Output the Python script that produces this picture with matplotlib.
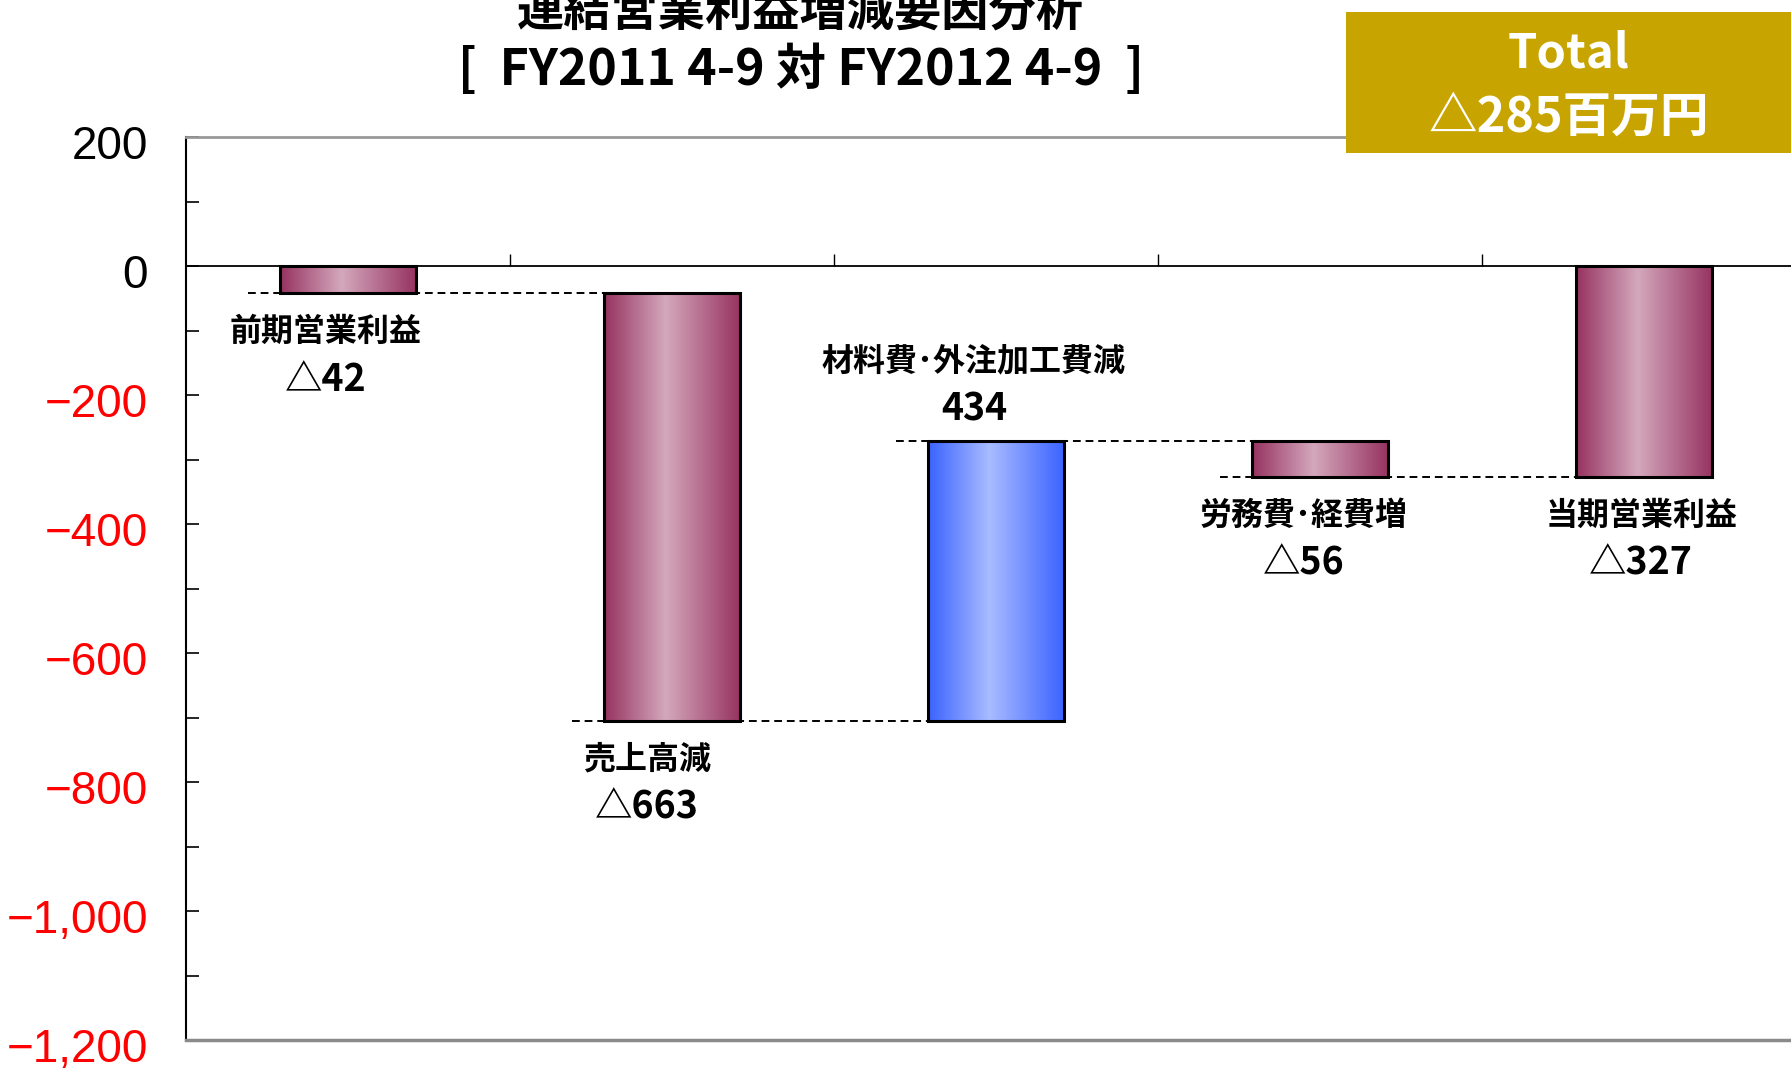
import numpy as np
import matplotlib
matplotlib.use('Agg')
import matplotlib.pyplot as plt
import matplotlib.transforms as mtransforms
from matplotlib.colors import LinearSegmentedColormap
from matplotlib.patches import Rectangle

plt.rcParams['font.family'] = ['Noto Sans CJK JP', 'DejaVu Sans']

# data (millions of yen)
labels = ['前期営業利益', '売上高減', '材料費･外注加工費減', '労務費･経費増', '当期営業利益']
values = [-42, -663, 434, -56, -327]
kinds = ['total', 'delta', 'delta', 'delta', 'total']
yticks = [200, 0, -200, -400, -600, -800, -1000, -1200]
title_lines = ['連結営業利益増減要因分析', '[  FY2011 4-9 対 FY2012 4-9  ]']
total_change = -285

# label nudges (points)
label_dx = [-16, -18, -16, -12, -2]

def tri(v):
    return '△' + str(abs(v)) if v < 0 else str(v)

# waterfall bottoms / tops
bottoms, tops, ends = [], [], []
level = 0
for v, k in zip(values, kinds):
    if k == 'total':
        lo, hi = min(0, v), max(0, v)
        level = v
    else:
        lo, hi = min(level, level + v), max(level, level + v)
        level = level + v
    bottoms.append(lo)
    tops.append(hi)
    ends.append(level)

pink = LinearSegmentedColormap.from_list('pink', [(0, '#963260'), (0.45, '#d4a8bc'), (1, '#963260')])
blue = LinearSegmentedColormap.from_list('blue', [(0, '#3a62ff'), (0.45, '#a9bcff'), (1, '#3a62ff')])

fig = plt.figure(figsize=(17.91, 10.69), dpi=100)
ax = fig.add_axes([0.1039, 0.0271, 0.9045, 0.8447])

x = np.arange(len(values))
w = 0.42
grad = np.linspace(0, 1, 256).reshape(1, -1)
for i in x:
    rect = ax.bar(i, tops[i] - bottoms[i], w, bottom=bottoms[i], facecolor='none',
                  edgecolor='black', linewidth=2.2, zorder=3)[0]
    cmap = blue if values[i] > 0 and kinds[i] == 'delta' else pink
    im = ax.imshow(grad, cmap=cmap, aspect='auto', zorder=2,
                   extent=[i - w / 2, i + w / 2, bottoms[i], tops[i]])
    im.set_clip_path(rect)

# connector lines
for i in range(len(values) - 1):
    ax.plot([i - 0.31, i + 1.17], [ends[i], ends[i]], color='black', lw=1.4,
            ls=(0, (4, 2.5)), zorder=4)

# labels
for i in x:
    if values[i] > 0 and kinds[i] == 'delta':
        ax.annotate(labels[i], (i, tops[i]), xytext=(label_dx[i], 57), textcoords='offset points',
                    ha='center', va='center', fontsize=23, fontweight='bold')
        ax.annotate(tri(values[i]), (i, tops[i]), xytext=(label_dx[i], 23), textcoords='offset points',
                    ha='center', va='center', fontsize=27, fontweight='bold')
    else:
        ax.annotate(labels[i], (i, bottoms[i]), xytext=(label_dx[i], -28), textcoords='offset points',
                    ha='center', va='center', fontsize=23, fontweight='bold')
        ax.annotate(tri(values[i]), (i, bottoms[i]), xytext=(label_dx[i], -62), textcoords='offset points',
                    ha='center', va='center', fontsize=27, fontweight='bold')

ax.set_xlim(-0.5, len(values) - 0.5)
ax.set_ylim(-1200, 200)

# y ticks, labels drawn as text a bit below each tick like the original
ax.set_yticks(yticks, labels=[])
ax.set_yticks(np.arange(-1100, 200, 200), minor=True)
ax.tick_params(axis='y', which='both', direction='in', length=9, width=1.2)
lab_tr = ax.get_yaxis_transform() + mtransforms.ScaledTranslation(-0.38, -0.05, fig.dpi_scale_trans)
for v in yticks:
    ax.text(0, v, f'{v:,}'.replace('-', '−'), transform=lab_tr, ha='right', va='center_baseline',
            fontsize=33, color='red' if v < 0 else 'black',
            family=['Liberation Sans Narrow', 'Liberation Sans', 'DejaVu Sans'])

ax.set_xticks(np.arange(0.5, len(values) - 0.5, 1.0))
ax.set_xticklabels([])
ax.tick_params(axis='x', direction='in', length=9, width=1)

ax.spines['bottom'].set_position(('data', 0))
ax.spines['bottom'].set_linewidth(1.3)
ax.spines['left'].set_linewidth(1.5)
ax.spines['top'].set_color('#999999')
ax.spines['top'].set_linewidth(2)
ax.spines['right'].set_visible(False)
ax.axhline(-1200, color='#8a8a8a', lw=2.5, clip_on=False, zorder=5)

fig.text(0.447, 1 - 12 / 1069, title_lines[0], ha='center', va='center',
         fontsize=34, fontweight='bold')
fig.text(0.447, 1 - 70 / 1069, title_lines[1], ha='center', va='center',
         fontsize=36, fontweight='bold')

box = Rectangle((1346 / 1791, 1 - 153 / 1069), 1 - 1346 / 1791, 141 / 1069,
                transform=fig.transFigure, facecolor='#c8a400', edgecolor='none', zorder=5)
fig.patches.append(box)
fig.text(0.876, 1 - 54 / 1069, 'Total', ha='center', va='center', color='white',
         fontsize=34, fontweight='bold', zorder=6)
fig.text(0.876, 1 - 117 / 1069, tri(total_change) + '百万円', ha='center', va='center',
         color='white', fontsize=35, fontweight='bold', zorder=6)

fig.savefig('out.png', dpi=100)
